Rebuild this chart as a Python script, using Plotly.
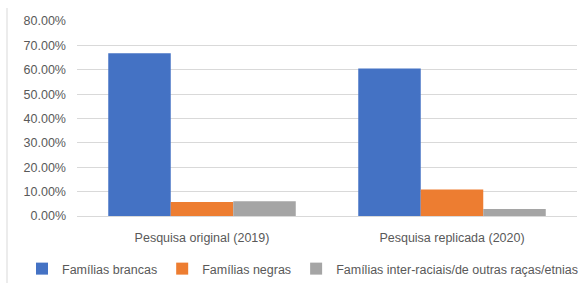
import plotly.graph_objects as go

categories = ["Pesquisa original (2019)", "Pesquisa replicada (2020)"]
series_names = ["Famílias brancas", "Famílias negras", "Famílias inter-raciais/de outras raças/etnias"]
brancas = [0.668, 0.605]
negras = [0.057, 0.109]
inter = [0.061, 0.029]
colors = ["#4472C4", "#ED7D31", "#A5A5A5"]
y_ticks = [0, 0.1, 0.2, 0.3, 0.4, 0.5, 0.6, 0.7, 0.8]

W, H = 582, 287
L, R, T, B = 77, 5, 21, 71
PW, PH = W - L - R, H - T - B

fig = go.Figure()
for name, vals, c in zip(series_names, [brancas, negras, inter], colors):
    fig.add_trace(go.Bar(x=categories, y=vals, name=name, marker_color=c,
                         marker_line_width=0))

font = dict(family="Liberation Sans, Arial, sans-serif", size=12, color="#595959")
fig.update_layout(
    width=W, height=H,
    margin=dict(l=L, r=R, t=T, b=B, autoexpand=False),
    paper_bgcolor="white", plot_bgcolor="white",
    barmode="group", bargap=0.25, bargroupgap=0,
    font=font,
    showlegend=True,
    legend=dict(orientation="h", xref="paper", yref="paper",
                x=(22 - L) / PW, xanchor="left",
                y=(H - B - 269) / PH, yanchor="middle",
                font=dict(size=12.5, color="#595959"), itemwidth=30,
                tracegroupgap=0, traceorder="normal"),
    xaxis=dict(showgrid=False, showline=True, linecolor="#d9d9d9", linewidth=1,
               ticks="", ticklabelstandoff=10, automargin=False,
               tickfont=dict(size=12.5, color="#595959")),
    yaxis=dict(range=[0, 0.8], tickvals=y_ticks, tickformat=".2%",
               showgrid=True, gridcolor="#d9d9d9", gridwidth=1,
               zeroline=False, showline=False, ticks="", automargin=False,
               ticklabelstandoff=10, tickfont=dict(size=12.5, color="#595959")),
    shapes=[dict(type="line", xref="paper", yref="paper",
                 x0=(7 - L) / PW, x1=(7 - L) / PW,
                 y0=(H - B - 8) / PH, y1=(H - B - 283) / PH,
                 line=dict(color="#d9d9d9", width=1))],
)
fig.write_html("out.html", config={"displayModeBar": False},
               post_script="document.body.style.margin='0';document.body.style.overflow='hidden';")
